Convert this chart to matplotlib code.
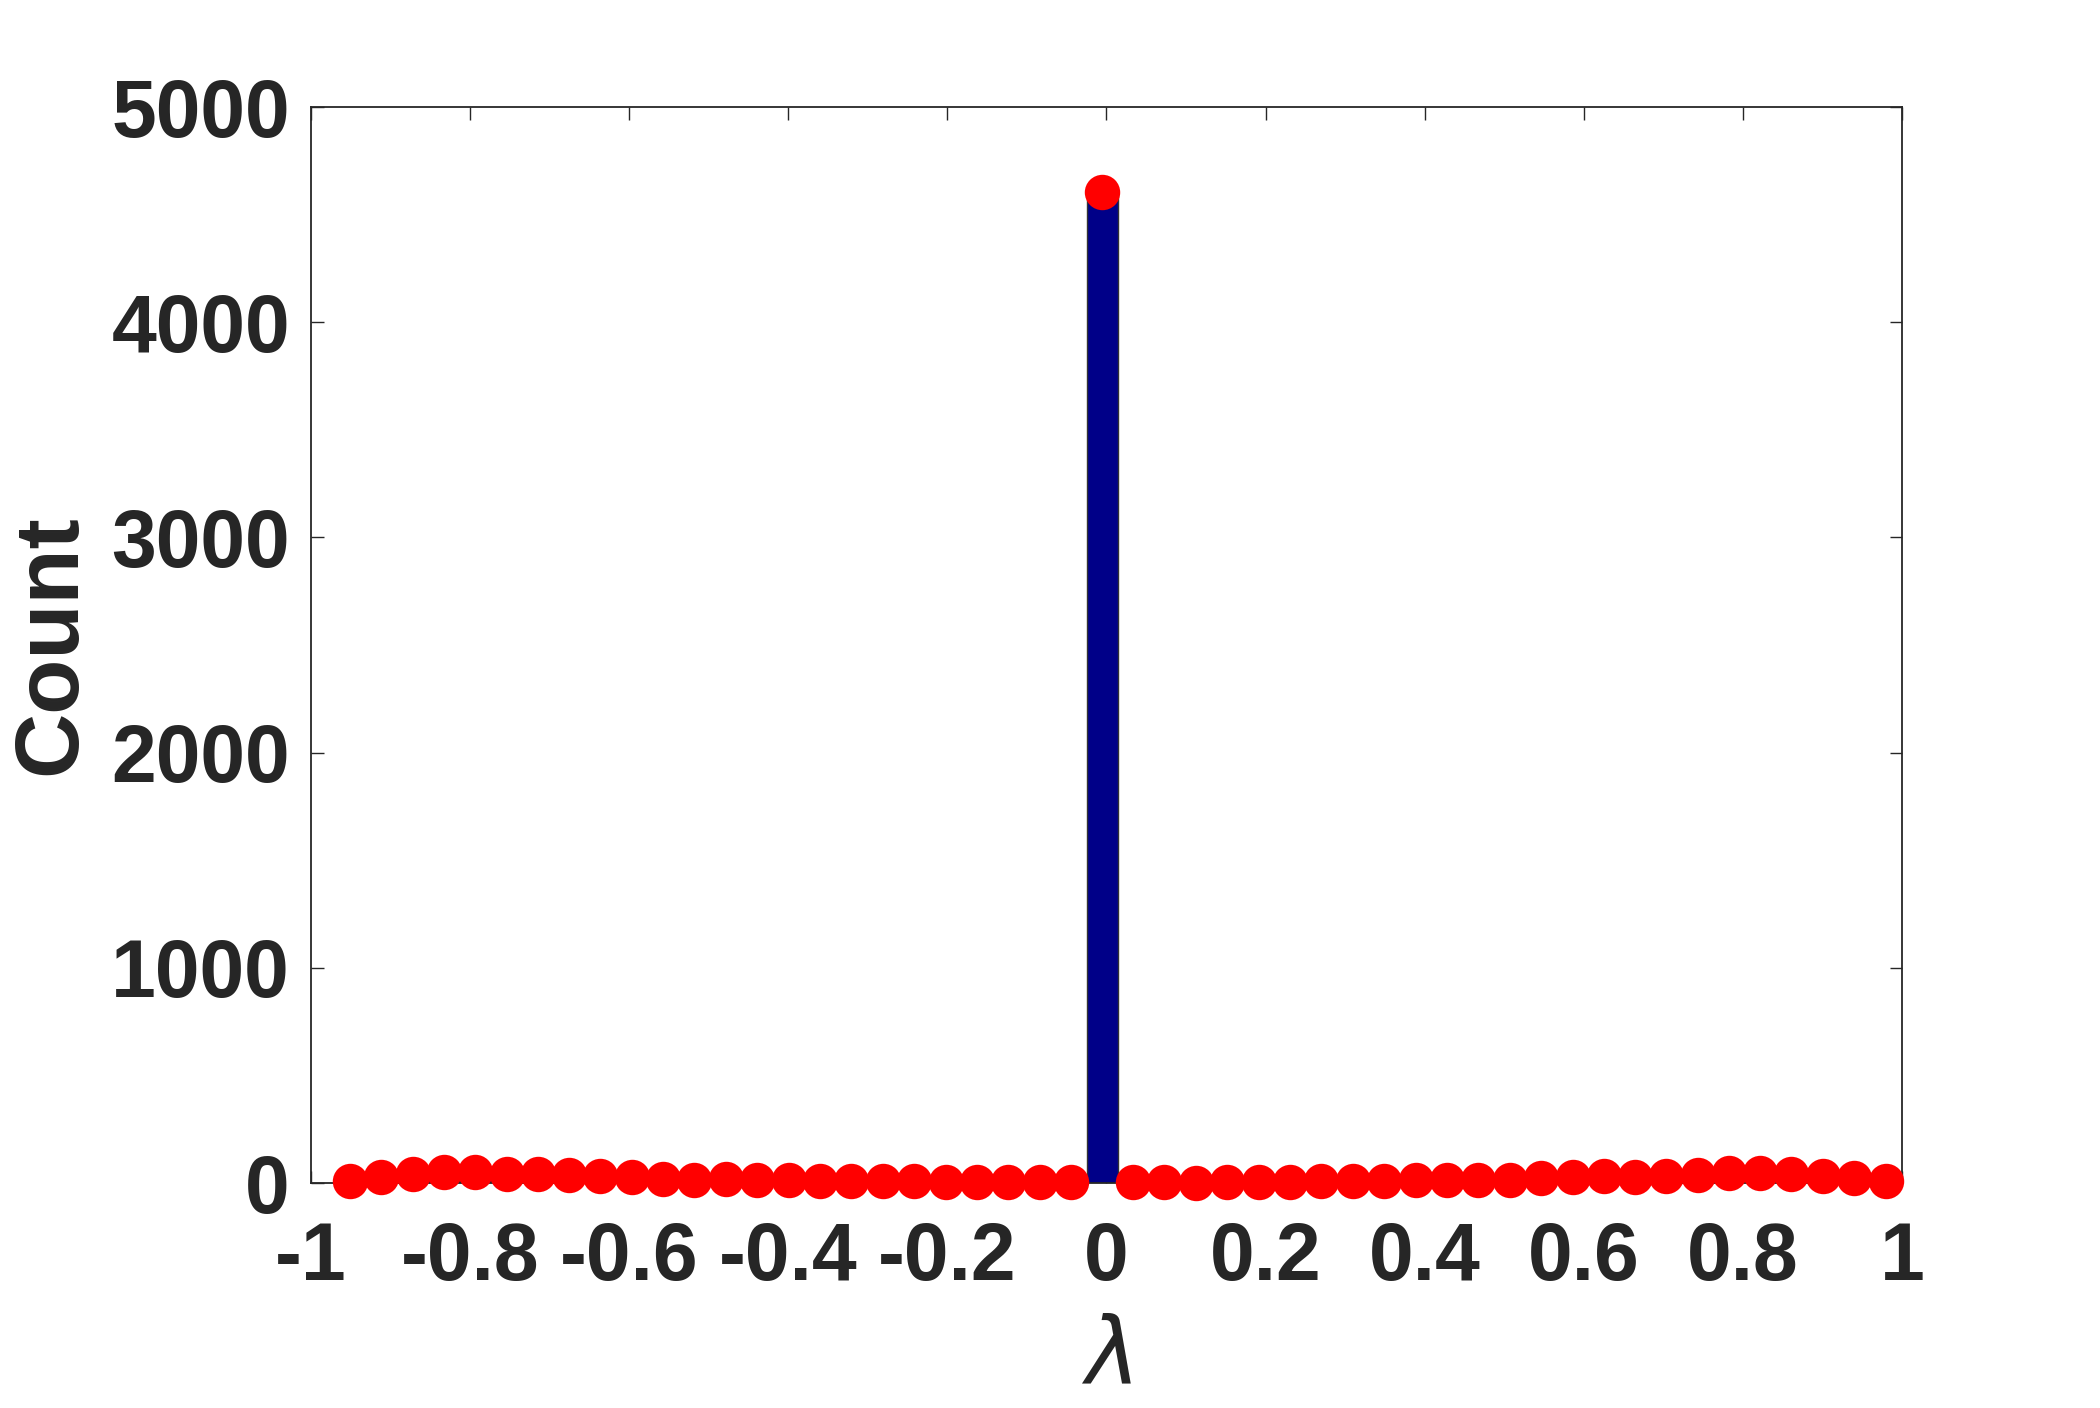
import numpy as np
import matplotlib
matplotlib.use("Agg")
import matplotlib.pyplot as plt

# histogram of lambda values (bin centres)
centers = [-0.951, -0.912, -0.872, -0.833, -0.793, -0.754, -0.715, -0.675,
           -0.636, -0.596, -0.557, -0.518, -0.478, -0.439, -0.399, -0.360,
           -0.321, -0.281, -0.242, -0.202, -0.163, -0.124, -0.084, -0.045,
           -0.005, 0.034, 0.073, 0.113, 0.152, 0.192, 0.231, 0.270,
           0.310, 0.349, 0.389, 0.428, 0.467, 0.507, 0.546, 0.586,
           0.625, 0.664, 0.704, 0.743, 0.783, 0.822, 0.861, 0.901,
           0.940, 0.980]
counts = [11, 29, 44, 50, 50, 44, 40, 38, 34, 30, 20, 15, 17, 13, 13, 8,
          8, 7, 7, 5, 3, 3, 3, 3, 4605, 3, 3, 2, 3, 5, 5, 7,
          7, 8, 12, 12, 12, 15, 21, 26, 34, 26, 34, 38, 46, 46, 44, 34,
          21, 7]
bin_width = 0.0394

xticks = [-1, -0.8, -0.6, -0.4, -0.2, 0, 0.2, 0.4, 0.6, 0.8, 1]
xticklabels = ['-1', '-0.8', '-0.6', '-0.4', '-0.2', '0', '0.2', '0.4',
               '0.6', '0.8', '1']
yticks = [0, 1000, 2000, 3000, 4000, 5000]

plt.rcParams['font.family'] = ['Liberation Sans', 'DejaVu Sans']
plt.rcParams['mathtext.fontset'] = 'dejavusans'

fig = plt.figure(figsize=(21, 14.08), dpi=100)
ax = fig.add_axes([0.148, 0.1598, 0.7577, 0.7642])

ax.bar(centers, counts, width=bin_width, color='#000088',
       edgecolor='#333333', linewidth=1, zorder=2)
ax.plot(centers, counts, 'o', color='#ff0000', markersize=25.5,
        markeredgewidth=0, clip_on=False, zorder=3)

ax.set_xlim(-1, 1)
ax.set_ylim(0, 5000)
ax.set_xticks(xticks)
ax.set_xticklabels(xticklabels)
ax.set_yticks(yticks)

dark = '#262626'
for s in ax.spines.values():
    s.set_color(dark)
    s.set_linewidth(1.3)
ax.tick_params(direction='in', top=True, right=True, length=9, width=1,
               color=dark, labelcolor=dark, labelsize=58)
ax.tick_params(axis='x', pad=27)
ax.tick_params(axis='y', pad=15)
for lab in ax.get_xticklabels() + ax.get_yticklabels():
    lab.set_fontweight('bold')

ax.set_ylabel('Count', fontsize=65, fontweight='bold', color=dark, labelpad=12)
ax.set_xlabel(r'$\lambda$', fontsize=66, color=dark, labelpad=14)

fig.savefig('out.png', dpi=100, facecolor='white')
